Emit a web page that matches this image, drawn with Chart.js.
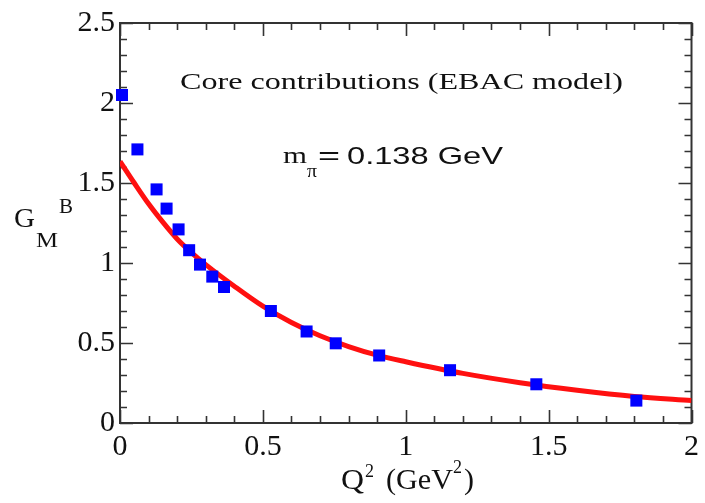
<!DOCTYPE html>
<html>
<head>
<meta charset="utf-8">
<script src="https://cdn.jsdelivr.net/npm/chart.js@4.4.1/dist/chart.umd.min.js"></script>
<style>
  html, body { margin: 0; padding: 0; background: #fff; }
  #wrap { width: 705px; height: 503px; }
</style>
</head>
<body>
<div id="wrap"><canvas id="chart" width="705" height="503"></canvas></div>
<script>
// measured points (Q^2 in GeV^2, G_M^B)
const ptQ2 = [0.007, 0.061, 0.128, 0.163, 0.205, 0.242, 0.28, 0.323, 0.364, 0.528, 0.653, 0.755, 0.907, 1.155, 1.457, 1.807];
const ptGM = [2.05, 1.71, 1.46, 1.34, 1.21, 1.08, 0.99, 0.915, 0.85, 0.70, 0.572, 0.498, 0.422, 0.33, 0.242, 0.14];

// red curve
const fitQ2 = [0, 0.05, 0.1, 0.15, 0.2, 0.25, 0.3, 0.4, 0.5, 0.6, 0.7, 0.8, 0.9, 1.0, 1.2, 1.4, 1.6, 1.8, 2.0];
const fitGM = [1.635, 1.50, 1.37, 1.255, 1.15, 1.065, 0.99, 0.855, 0.73, 0.628, 0.545, 0.478, 0.424, 0.383, 0.31, 0.252, 0.205, 0.166, 0.14];

// axis ranges and labelled ticks
const xRange = [0, 2];
const yRange = [0, 2.5];
const majorStep = 0.5;
const minorStep = 0.1;

const ink = '#111';
const frame = '#333';

const isMajor = v => Math.abs(v / majorStep - Math.round(v / majorStep)) < 1e-6;
const fmt = v => String(Math.round(v * 10) / 10);

// stretched text helper (the reference text is wide)
function wideText(ctx, txt, x, y, font, width) {
  ctx.save();
  ctx.font = font;
  const w = ctx.measureText(txt).width;
  const sx = width ? width / w : 1;
  ctx.translate(x, y);
  ctx.scale(sx, 1);
  ctx.textAlign = 'left';
  ctx.textBaseline = 'alphabetic';
  ctx.fillText(txt, 0, 0);
  ctx.restore();
  return w * sx;
}

// frame + inward ticks on all four sides, titles and notes
const framePlugin = {
  id: 'framePlugin',
  beforeDatasetsDraw(chart) {
    const { ctx, chartArea: a, scales: { x, y } } = chart;
    ctx.save();
    ctx.strokeStyle = frame;
    ctx.lineWidth = 2;
    ctx.strokeRect(a.left, a.top, a.right - a.left, a.bottom - a.top);
    ctx.lineWidth = 1.6;
    ctx.beginPath();
    x.ticks.forEach(t => {
      const px = Math.round(x.getPixelForValue(t.value)) + 0.5;
      const len = isMajor(t.value) ? 13 : 7;
      ctx.moveTo(px, a.bottom); ctx.lineTo(px, a.bottom - len);
      ctx.moveTo(px, a.top); ctx.lineTo(px, a.top + len);
    });
    y.ticks.forEach(t => {
      const py = Math.round(y.getPixelForValue(t.value)) + 0.5;
      const len = isMajor(t.value) ? 13 : 7;
      ctx.moveTo(a.left, py); ctx.lineTo(a.left + len, py);
      ctx.moveTo(a.right, py); ctx.lineTo(a.right - len, py);
    });
    ctx.stroke();
    ctx.restore();
  },
  afterDraw(chart) {
    const { ctx } = chart;
    ctx.save();
    ctx.fillStyle = ink;
    // annotations
    wideText(ctx, 'Core contributions (EBAC model)', 180, 89, '24px "Liberation Serif"', 443);
    wideText(ctx, 'm', 283, 163, '24px "Liberation Serif"', 24);
    wideText(ctx, '\u03c0', 307, 177, '18px "Liberation Serif"', 10);
    wideText(ctx, '=', 318, 164, '26px "Liberation Sans"', 22);
    wideText(ctx, '0.138 GeV', 347, 164, '24px "Liberation Sans"', 156);
    // y title G_M^B
    wideText(ctx, 'G', 14, 227, '28px "Liberation Serif"', 21);
    wideText(ctx, 'M', 36, 247, '22px "Liberation Serif"', 22);
    wideText(ctx, 'B', 59, 213, '20px "Liberation Serif"', 14);
    // x title Q^2 (GeV^2)
    wideText(ctx, 'Q', 341, 489, '30px "Liberation Serif"', 23);
    wideText(ctx, '2', 365, 477, '18px "Liberation Serif"', 9);
    wideText(ctx, '(GeV', 386, 489, '30px "Liberation Serif"', 67);
    wideText(ctx, '2', 453, 473, '18px "Liberation Serif"', 9);
    wideText(ctx, ')', 464, 489, '30px "Liberation Serif"');
    ctx.restore();
  }
};

const tickFont = { family: '"Liberation Serif"', size: 30 };

new Chart(document.getElementById('chart'), {
  type: 'scatter',
  data: {
    datasets: [{
      label: 'fit',
      data: fitQ2.map((q, i) => ({ x: q, y: fitGM[i] })),
      showLine: true,
      borderColor: '#ff1010',
      borderWidth: 5,
      pointRadius: 0,
      cubicInterpolationMode: 'monotone',
      order: 2
    }, {
      label: 'core',
      data: ptQ2.map((q, i) => ({ x: q, y: ptGM[i] })),
      pointStyle: 'rect',
      pointRadius: 8.5,
      backgroundColor: '#0000ff',
      borderWidth: 0,
      clip: false,
      order: 1
    }]
  },
  options: {
    responsive: false,
    animation: false,
    layout: { padding: { top: 23, right: 13, left: 0, bottom: 0 } },
    plugins: { legend: { display: false }, tooltip: { enabled: false } },
    scales: {
      x: {
        type: 'linear', min: xRange[0], max: xRange[1],
        grid: { display: false, drawTicks: false },
        border: { display: false },
        ticks: {
          stepSize: minorStep, autoSkip: false, maxRotation: 0, padding: 6,
          color: ink, font: tickFont,
          callback: v => isMajor(v) ? fmt(v) : ''
        },
        afterFit: s => { s.height = 80; }
      },
      y: {
        type: 'linear', min: yRange[0], max: yRange[1],
        grid: { display: false, drawTicks: false },
        border: { display: false },
        ticks: {
          stepSize: minorStep, autoSkip: false, padding: 5,
          color: ink, font: tickFont,
          callback: v => isMajor(v) ? fmt(v) : ''
        },
        afterFit: s => { s.width = 120; }
      }
    }
  },
  plugins: [framePlugin]
});
</script>
</body>
</html>
